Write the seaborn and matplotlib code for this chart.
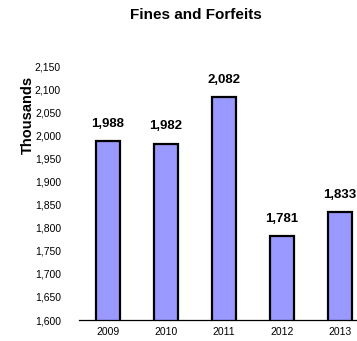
import matplotlib
matplotlib.use("Agg")
import matplotlib.pyplot as plt
import seaborn as sns
import pandas as pd
from matplotlib.ticker import FuncFormatter, FixedLocator

years = ["2009", "2010", "2011", "2012", "2013"]
fines = [1988, 1982, 2082, 1781, 1833]
y_min, y_max, y_step = 1600, 2150, 50

sns.set_theme(style="white")
plt.rcParams["font.family"] = ["Liberation Sans", "DejaVu Sans"]
plt.rcParams["text.color"] = "black"
plt.rcParams["axes.labelcolor"] = "black"

df = pd.DataFrame({"year": years, "fines": fines})

fig = plt.figure(figsize=(3.57, 3.41), dpi=100)
ax = fig.add_axes([79 / 357, 21 / 341, 290 / 357, 254 / 341])

sns.barplot(data=df, x="year", y="fines", ax=ax, color="#9999FF",
            saturation=1, width=0.4, edgecolor="black", linewidth=1.6)

ax.set_ylim(y_min, y_max)
ax.set_xlim(-0.5, len(years) - 0.5)
ax.yaxis.set_major_locator(FixedLocator(range(y_min, y_max + 1, y_step)))
ax.yaxis.set_major_formatter(FuncFormatter(lambda v, p: f"{int(v):,}"))
ax.tick_params(axis="y", length=0, pad=13, labelsize=7.5, colors="black")
ax.tick_params(axis="x", which="major", length=0, pad=5, labelsize=7.5, colors="black")
ax.xaxis.set_minor_locator(FixedLocator([i - 0.5 for i in range(len(years) + 1)]))
ax.tick_params(axis="x", which="minor", length=3, width=0.6, color="#888888", direction="out")

for s in ["top", "right", "left"]:
    ax.spines[s].set_visible(False)
ax.spines["bottom"].set_color("black")
ax.spines["bottom"].set_linewidth(0.9)

ax.set_xlabel("")
ax.set_ylabel("")

for i, v in enumerate(fines):
    ax.annotate(f"{v:,}", (i, v), xytext=(0, 8), textcoords="offset points",
                ha="center", va="bottom", fontsize=9.5, fontweight="bold", color="black")

fig.text(196 / 357, 1 - 15 / 341, "Fines and Forfeits", ha="center", va="center",
         fontsize=11, fontweight="bold", color="black")
fig.text(28 / 357, 1 - 115 / 341, "Thousands", ha="center", va="center",
         rotation=90, fontsize=10.5, fontweight="bold", color="black")

fig.savefig("out.png", dpi=100)
